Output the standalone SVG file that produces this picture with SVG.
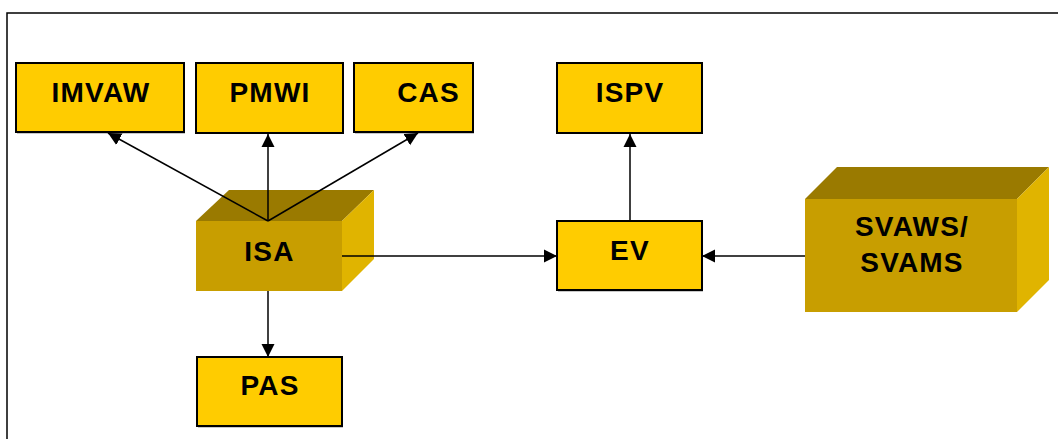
<svg xmlns="http://www.w3.org/2000/svg" width="1058" height="439" viewBox="0 0 1058 439">
<style>
.box{fill:#FFCC00;stroke:#000;stroke-width:2}
.shadow{fill:#C8C8C8}
.front{fill:#C89E00}
.top{fill:#9A7A00}
.side{fill:#E0B400}
.lbl{font-family:"Liberation Sans",Arial,sans-serif;font-weight:bold;font-size:28px;letter-spacing:1.2px;fill:#000;text-anchor:middle}
.con{stroke:#000;stroke-width:1.5;fill:none;marker-end:url(#arr)}
</style>
<defs>
<marker id="arr" viewBox="0 0 10 10" refX="10" refY="5" markerWidth="13" markerHeight="14" markerUnits="userSpaceOnUse" orient="auto">
<path d="M0,0 L10,5 L0,10 z" fill="#000"/>
</marker>
</defs>
<rect x="7" y="13" width="1070" height="440" fill="none" stroke="#000" stroke-width="1.5"/>
<g id="IMVAW">
<rect class="shadow" x="17" y="64" width="168" height="70"/>
<rect class="box" x="16" y="63" width="168" height="69"/>
<text class="lbl" x="101" y="102">IMVAW</text>
</g>
<g id="PMWI">
<rect class="shadow" x="197" y="64" width="147" height="70"/>
<rect class="box" x="196" y="63" width="147" height="70"/>
<text class="lbl" x="270" y="102">PMWI</text>
</g>
<g id="CAS">
<rect class="shadow" x="355" y="64" width="119" height="70"/>
<rect class="box" x="354" y="63" width="119" height="69"/>
<text class="lbl" x="428.5" y="102">CAS</text>
</g>
<g id="ISPV">
<rect class="shadow" x="558" y="64" width="145" height="70"/>
<rect class="box" x="557" y="63" width="145" height="70"/>
<text class="lbl" x="630" y="102">ISPV</text>
</g>
<g id="EV">
<rect class="shadow" x="558" y="222" width="145" height="70"/>
<rect class="box" x="557" y="221" width="145" height="69"/>
<text class="lbl" x="630" y="260">EV</text>
</g>
<g id="PAS">
<rect class="shadow" x="198" y="358" width="145" height="70"/>
<rect class="box" x="197" y="357" width="145" height="69"/>
<text class="lbl" x="270" y="395">PAS</text>
</g>
<g id="ISA">
<polygon class="top" points="196,221 229,190 374,190 342,221"/>
<polygon class="side" points="342,221 374,190 374,259 342,291"/>
<rect class="front" x="196" y="221" width="146" height="70"/>
<text class="lbl" x="269.5" y="261">ISA</text>
</g>
<g id="SVAWS">
<polygon class="top" points="805,199 837,167 1049,167 1017,199"/>
<polygon class="side" points="1017,199 1049,167 1049,280 1017,312"/>
<rect class="front" x="805" y="199" width="212" height="113"/>
<text class="lbl" x="912" y="236">SVAWS/</text>
<text class="lbl" x="912" y="272">SVAMS</text>
</g>
<g id="connectors">
<path class="con" d="M268,221 L108,133"/>
<path class="con" d="M268,221 L268,134"/>
<path class="con" d="M268,221 L418,133"/>
<path class="con" d="M268,291 L268,357"/>
<path class="con" d="M342,256 L557,256"/>
<path class="con" d="M805,256 L702,256"/>
<path class="con" d="M630,221 L630,134"/>
</g>
</svg>
